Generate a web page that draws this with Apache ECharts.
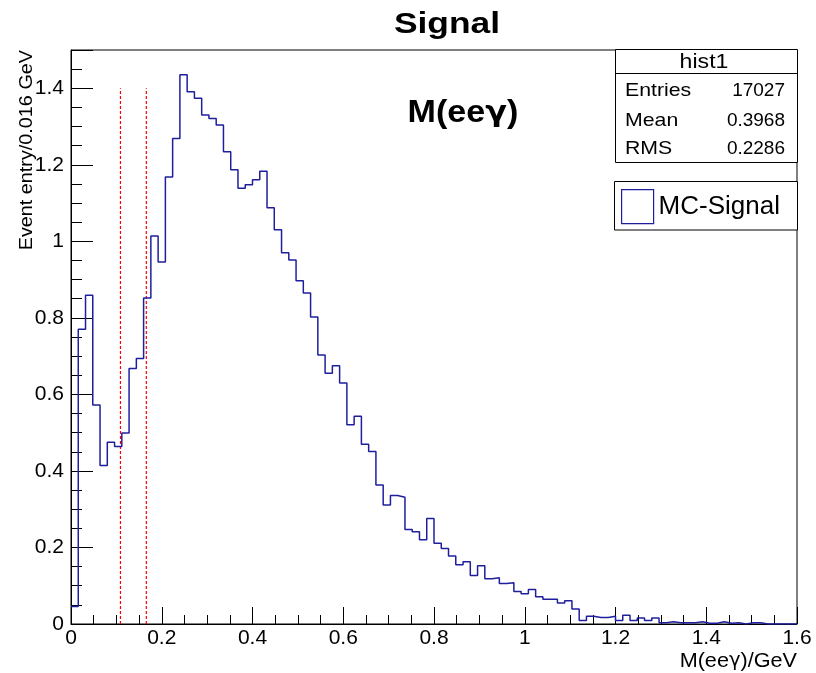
<!DOCTYPE html>
<html>
<head>
<meta charset="utf-8">
<script src="https://cdn.jsdelivr.net/npm/echarts@6/dist/echarts.min.js"></script>
<style>html,body{margin:0;padding:0;background:#fff;}#c{width:816px;height:673px;}</style>
</head>
<body>
<div id="c"></div>
<script>
// ---- data ----
var binWidth = 0.016;
var binCounts = [
  0.046, 0.770, 0.859, 0.572, 0.414, 0.475, 0.464, 0.499, 0.668, 0.694,
  0.852, 1.014, 0.946, 1.168, 1.269, 1.435, 1.391, 1.374, 1.330, 1.321,
  1.304, 1.234, 1.187, 1.139, 1.148, 1.161, 1.183, 1.088, 1.030, 0.970,
  0.951, 0.897, 0.865, 0.802, 0.703, 0.655, 0.675, 0.630, 0.521, 0.543,
  0.470, 0.451, 0.363, 0.311, 0.336, 0.331, 0.247, 0.241, 0.220, 0.276,
  0.211, 0.197, 0.178, 0.155, 0.163, 0.127, 0.152, 0.118, 0.121, 0.106,
  0.108, 0.085, 0.079, 0.090, 0.071, 0.065, 0.065, 0.055, 0.061, 0.039,
  0.009, 0.020, 0.017, 0.017, 0.020, 0.009, 0.023, 0.009, 0.016, 0.009,
  0.016, 0.003, 0.006, 0.003, 0.003, 0.003, 0.006, 0.002, 0.002, 0.006,
  0.002, 0.003, 0.000, 0.003, 0.003, 0.000, 0.000, 0.000, 0.000, 0.000
];
var cutPositions = [0.109, 0.166];
var cutHeight = 1.4;
var xTicks = [0, 0.2, 0.4, 0.6, 0.8, 1, 1.2, 1.4, 1.6];
var yTicks = [0, 0.2, 0.4, 0.6, 0.8, 1, 1.2, 1.4];
var statsLabels = ['Entries', 'Mean', 'RMS'];
var statsValues = ['17027', '0.3968', '0.2286'];
var histName = 'hist1';
var seriesName = 'MC-Signal';

// ---- build ----
var stepData = [];
for (var i = 0; i < binCounts.length; i++) {
  stepData.push([i * binWidth, binCounts[i]]);
}
stepData.push([binCounts.length * binWidth, binCounts[binCounts.length - 1]]);

var FONT = 'Liberation Sans';
var GFONT = 'DejaVu Sans';
var navy = '#1f1f9e';
function txt(x, y, text, size, align, opts) {
  opts = opts || {};
  return {
    type: 'text', x: x, y: y, z: 11,
    scaleX: opts.sx || 1, rotation: opts.rot || 0,
    style: { text: text, font: (opts.bold ? 'bold ' : '') + size + 'px "' + FONT + '"', fill: '#000',
      textAlign: align, textVerticalAlign: 'middle' }
  };
}
function gammaTxt(x, y, before, after, size, align, bold, sx) {
  var w = bold ? 'bold ' : '';
  return {
    type: 'text', x: x, y: y, z: 11, scaleX: sx,
    style: {
      text: '{a|' + before + '}{g|γ}{a|' + after + '}',
      textAlign: align, textVerticalAlign: 'middle', fill: '#000',
      rich: {
        a: { font: w + size + 'px "' + FONT + '"', fill: '#000' },
        g: { font: w + (size - 2) + 'px "' + GFONT + '"', fill: '#000' }
      }
    }
  };
}

var series = [{
  name: seriesName,
  type: 'line',
  step: 'end',
  data: stepData,
  showSymbol: false,
  symbol: 'none',
  lineStyle: { color: navy, width: 1.5 },
  itemStyle: { color: navy },
  z: 3
}];
cutPositions.forEach(function (p, k) {
  series.push({
    name: 'cut' + k,
    type: 'line',
    data: [[p, 0], [p, cutHeight]],
    showSymbol: false,
    symbol: 'none',
    lineStyle: { color: '#ff0000', width: 1.2, type: [3, 2] },
    z: 2
  });
});

var graphics = [
  { type: 'rect', shape: { x: 615.5, y: 49.5, width: 182, height: 113 },
    style: { fill: '#fff', stroke: '#000', lineWidth: 1 }, z: 10 },
  { type: 'line', shape: { x1: 615.5, y1: 73.5, x2: 797.5, y2: 73.5 },
    style: { stroke: '#000', lineWidth: 1 }, z: 11 },
  txt(704, 62, histName, 21, 'center', { sx: 1.1 })
];
var rowY = [91, 121, 149];
statsLabels.forEach(function (lab, k) {
  graphics.push(txt(625, rowY[k], lab, 19, 'left', { sx: 1.12 }));
  graphics.push(txt(785, rowY[k], statsValues[k], 19, 'right', { sx: 1.0 }));
});
graphics = graphics.concat([
  { type: 'rect', shape: { x: 614.5, y: 181.5, width: 183, height: 48.5 },
    style: { fill: '#fff', stroke: '#000', lineWidth: 1 }, z: 1 },
  txt(447, 25, 'Signal', 30, 'center', { bold: true, sx: 1.18 }),
  gammaTxt(463, 113, 'M(ee', ')', 31, 'center', true, 1.1),
  gammaTxt(797, 661, 'M(ee', ')/GeV', 21, 'right', false, 1.03),
  txt(27, 50, 'Event entry/0.016 GeV', 18, 'right', { rot: Math.PI / 2, sx: 1.1 })
]);

var option = {
  animation: false,
  backgroundColor: '#fff',
  textStyle: { fontFamily: FONT },
  grid: { left: 71, right: 19, top: 50, bottom: 49, show: true, borderColor: '#000', borderWidth: 1, backgroundColor: 'transparent' },
  legend: {
    left: 621, top: 189,
    padding: 0,
    itemWidth: 32, itemHeight: 34,
    data: [{ name: seriesName, icon: 'rect', itemStyle: { color: '#fff', borderColor: navy, borderWidth: 1.2 } }],
    textStyle: { fontSize: 26, fontFamily: FONT, color: '#000' },
    z: 5
  },
  xAxis: {
    type: 'value', min: xTicks[0], max: xTicks[xTicks.length - 1], interval: xTicks[1] - xTicks[0],
    axisLine: { show: true, lineStyle: { color: '#000', width: 1 } },
    axisTick: { show: true, inside: true, length: 17, lineStyle: { color: '#000' } },
    minorTick: { show: true, splitNumber: 4, length: 9, lineStyle: { color: '#000' } },
    splitLine: { show: false },
    axisLabel: { fontSize: 21, fontFamily: FONT, color: '#000', margin: 4,
      formatter: function (v) { return String(+v.toFixed(2)); } }
  },
  yAxis: {
    type: 'value', min: yTicks[0], max: 1.5, interval: yTicks[1] - yTicks[0],
    axisLine: { show: true, lineStyle: { color: '#000', width: 1 } },
    axisTick: { show: true, inside: true, length: 22, lineStyle: { color: '#000' } },
    minorTick: { show: true, splitNumber: 4, length: 11, lineStyle: { color: '#000' } },
    splitLine: { show: false },
    axisLabel: { fontSize: 21, fontFamily: FONT, color: '#000', margin: 7, showMaxLabel: false,
      formatter: function (v) { return yTicks.indexOf(+v.toFixed(2)) >= 0 ? String(+v.toFixed(2)) : ''; } }
  },
  series: series,
  graphic: graphics
};

var chart = echarts.init(document.getElementById('c'), null, { renderer: 'canvas' });
chart.setOption(option);
</script>
</body>
</html>
